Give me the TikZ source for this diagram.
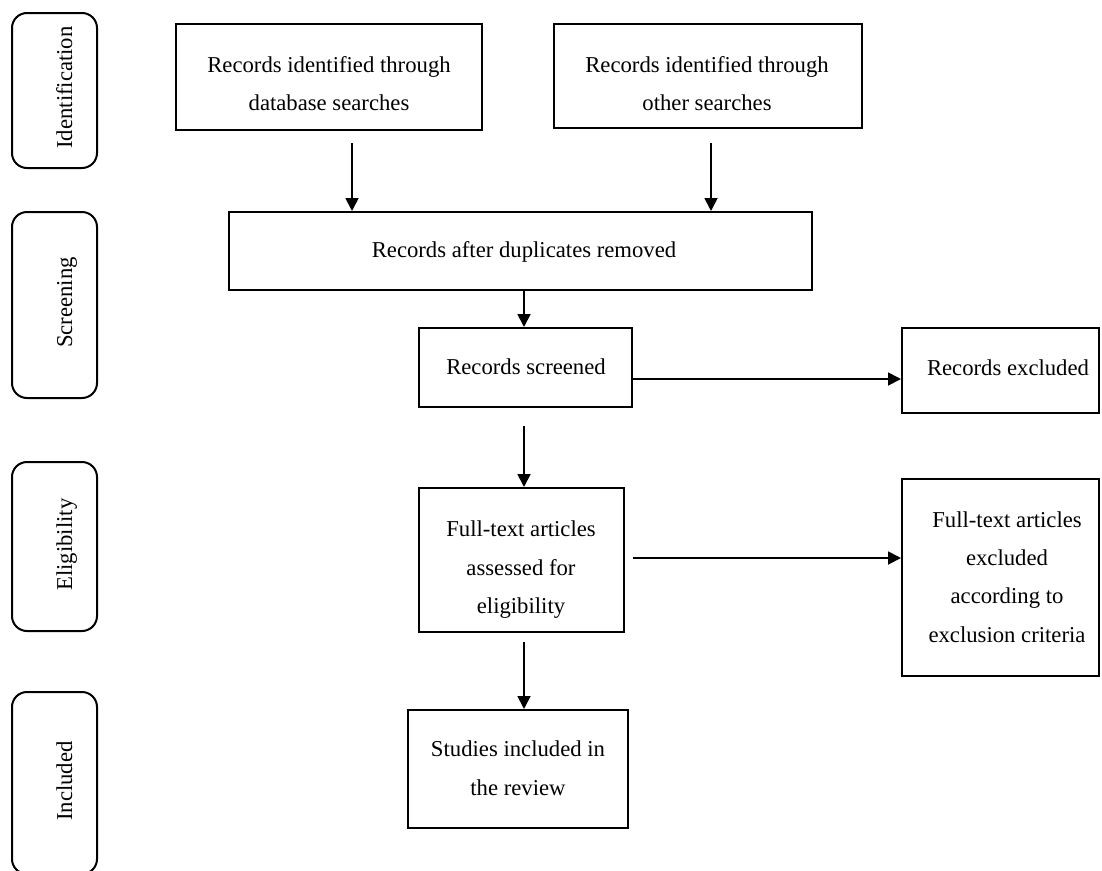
\documentclass[tikz,border=0pt]{standalone}
\usepackage{fontspec}
\setmainfont{Liberation Serif}
\usetikzlibrary{arrows.meta,calc}
\begin{document}
\begin{tikzpicture}[x=1pt,y=-1pt,
  boxnode/.style={draw, line width=2pt, rectangle, inner sep=0pt},
  phase/.style={draw, line width=2pt, rounded corners=15pt, inner sep=0pt, minimum width=85pt},
  txt/.style={align=center, font=\fontsize{22.7}{38.3}\selectfont, inner sep=0pt},
  phasetxt/.style={font=\fontsize{22.7}{27}\selectfont, inner sep=0pt, rotate=90, anchor=base},
  arr/.style={line width=1.8pt, -{Triangle[length=13pt,width=13pt]}}]
\useasboundingbox (0,0) rectangle (1102,870);
\clip (0,0) rectangle (1102,870);

% phase labels
\node[phase, minimum height=155pt] (ph1) at (54.5,90.5) {};
\node[phase, minimum height=186pt] (ph2) at (54.5,305) {};
\node[phase, minimum height=169pt] (ph3) at (54.5,546.5) {};
\node[phase, minimum height=182pt] (ph4) at (54.5,783) {};
\node[phasetxt] (ph1t) at (72,87.5) {Identification};
\node[phasetxt] (ph2t) at (72,302.5) {Screening};
\node[phasetxt] (ph3t) at (72,544.5) {Eligibility};
\node[phasetxt] (ph4t) at (72,781) {Included};

% boxes
\node[boxnode, minimum width=306pt, minimum height=106pt] (db) at (329,77) {};
\node[boxnode, minimum width=308pt, minimum height=104pt] (oth) at (708,76) {};
\node[boxnode, minimum width=583pt, minimum height=78pt] (dup) at (520.5,251) {};
\node[boxnode, minimum width=213pt, minimum height=79pt] (scr) at (525.5,367.5) {};
\node[boxnode, minimum width=197pt, minimum height=85pt] (exc) at (1000.5,370.5) {};
\node[boxnode, minimum width=205pt, minimum height=144pt] (fta) at (521.5,560) {};
\node[boxnode, minimum width=197pt, minimum height=197pt] (fte) at (1000.5,577.5) {};
\node[boxnode, minimum width=220pt, minimum height=118pt] (stu) at (518,769) {};

% texts
\node[txt] (dbt) at (329,83.3) {Records identified through\\database searches};
\node[txt] (otht) at (707,83.3) {Records identified through\\other searches};
\node[txt] (dupt) at (524,251.7) {Records after duplicates removed};
\node[txt] (scrt) at (526,366.3) {Records screened};
\node[txt] (exct) at (1008,367.3) {Records excluded};
\node[txt] (ftat) at (521,569.7) {Full-text articles\\assessed for\\eligibility};
\node[txt] (ftet) at (1007,577) {Full-text articles\\excluded\\according to\\exclusion criteria};
\node[txt] (stut) at (518,768.3) {Studies included in\\the review};

% connectors
\draw[arr] ([xshift=23pt,yshift=-12pt]db.south) -- ([xshift=23pt]db.south |- dup.north);
\draw[arr] ([xshift=3pt,yshift=-14pt]oth.south) -- ([xshift=3pt]oth.south |- dup.north);
\draw[arr] ([xshift=3.5pt]dup.south) -- ([xshift=3.5pt]dup.south |- scr.north);
\draw[arr] ([yshift=-11.5pt]scr.east) -- ([yshift=-11.5pt]scr.east -| exc.west);
\draw[arr] ([xshift=-1.5pt,yshift=-18pt]scr.south) -- ([xshift=-1.5pt]scr.south |- fta.north);
\draw[arr] ([xshift=8pt,yshift=2pt]fta.east) -- ([yshift=2pt]fta.east -| fte.west);
\draw[arr] ([xshift=2.5pt,yshift=-9pt]fta.south) -- ([xshift=2.5pt]fta.south |- stu.north);
\end{tikzpicture}
\end{document}
